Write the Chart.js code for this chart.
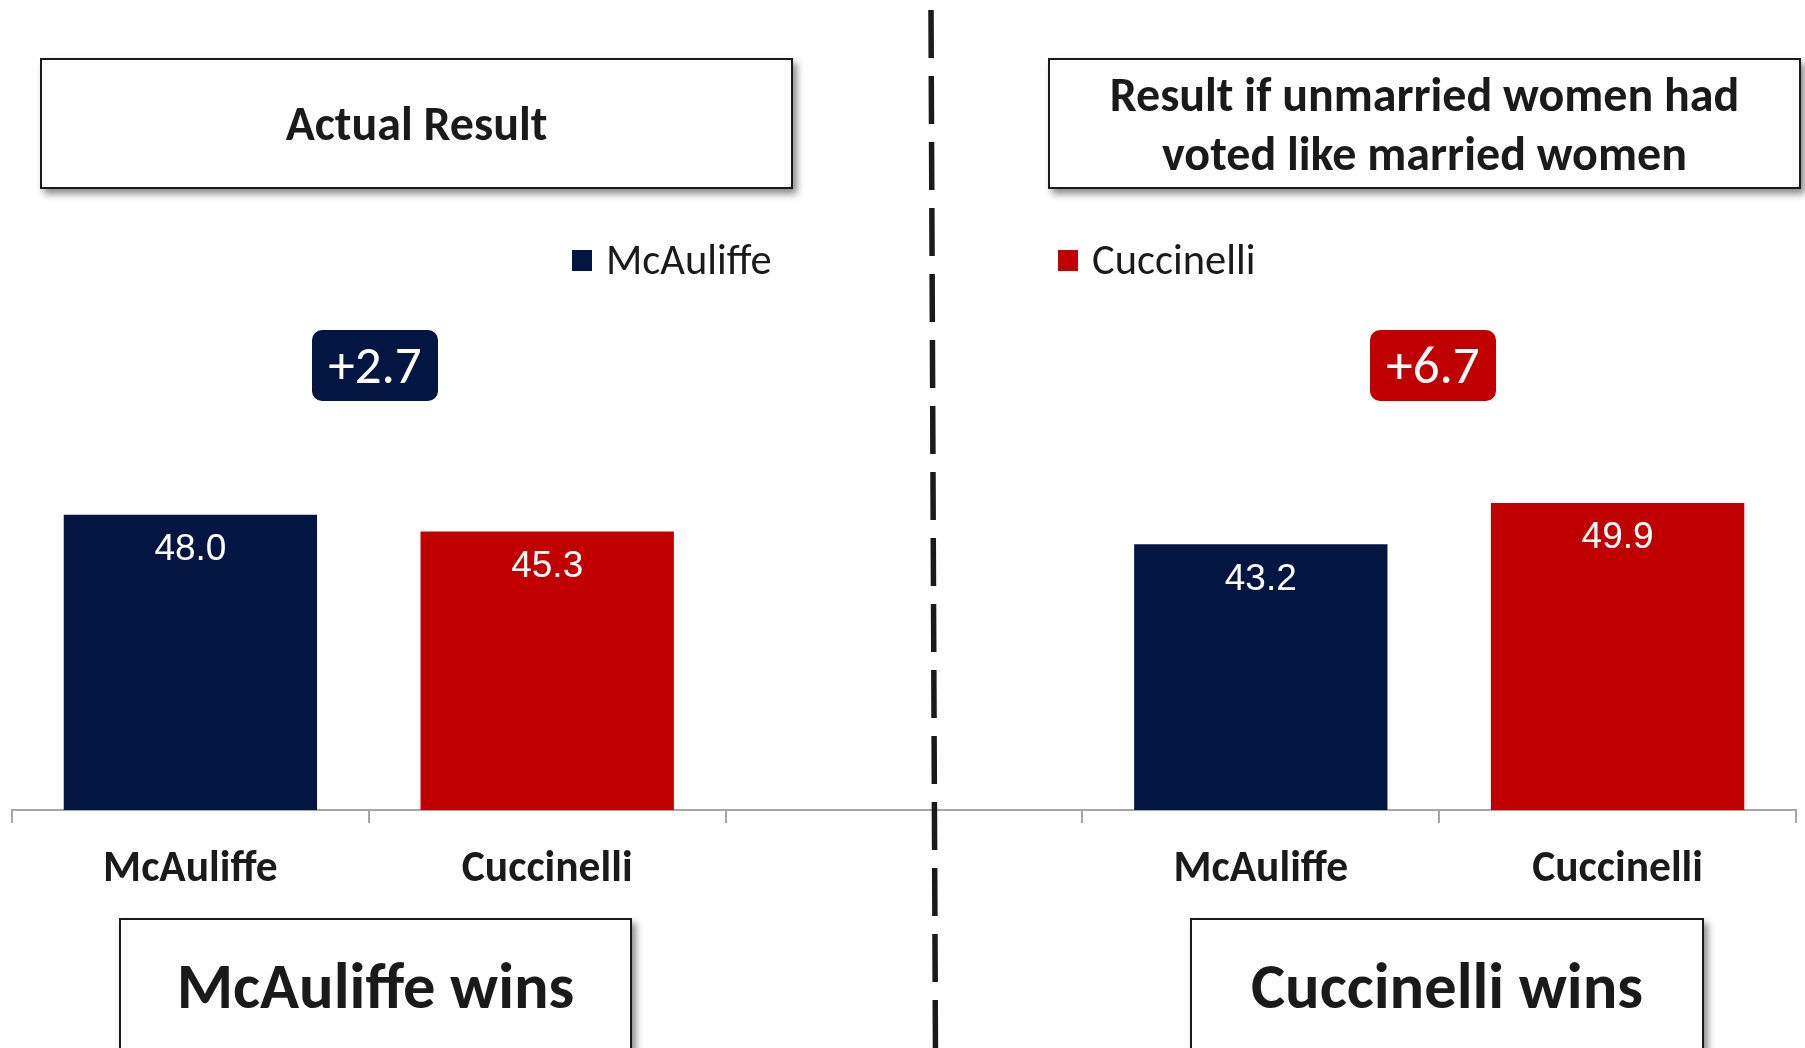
<!DOCTYPE html>
<html>
<head>
<meta charset="utf-8">
<title>Actual result vs. unmarried women voting like married women</title>
<script src="https://cdn.jsdelivr.net/npm/chart.js@4.4.1/dist/chart.umd.min.js"></script>
<style>
  html, body { margin: 0; padding: 0; background: #fff; }
  #stage { position: relative; width: 1805px; height: 1048px; overflow: hidden; font-family: Carlito, Calibri, Lato, sans-serif; color: #1a1a1a; }
  #chart { position: absolute; left: 0; top: 0; }
  .box { position: absolute; box-sizing: border-box; background: #fff; border: 2px solid #1a1a1a;
         box-shadow: 4px 5px 7px rgba(0,0,0,0.45); text-align: center; font-weight: 700; }
  .title { top: 58px; width: 753px; height: 131px; font-size: 48px; display: flex; align-items: center; justify-content: center; line-height: 59px; }
  .verdict { top: 918px; height: 200px; font-size: 64.5px; line-height: 133px; }
  .legend { position: absolute; top: 240px; display: flex; align-items: center; font-size: 42.5px; line-height: 40px; }
  .legend span.sw { display: inline-block; width: 20px; height: 21px; margin-right: 14px; }
  .badge { position: absolute; top: 330px; width: 126px; height: 71px; border-radius: 10px; color: #fff;
           font-size: 53px; line-height: 71px; text-align: center; }
</style>
</head>
<body>
<div id="stage">
  <canvas id="chart" width="1805" height="1048"></canvas>
  <div class="box title" style="left:40px;">Actual Result</div>
  <div class="box title" style="left:1048px;">Result if unmarried women had<br>voted like married women</div>
  <div class="legend" id="legend-left" style="left:572px;"></div>
  <div class="legend" id="legend-right" style="left:1058px;"></div>
  <div class="badge" id="badge-left" style="left:312px;"></div>
  <div class="badge" id="badge-right" style="left:1370px;"></div>
  <div class="box verdict" style="left:119px; width:513px;">McAuliffe wins</div>
  <div class="box verdict" style="left:1190px; width:514px;">Cuccinelli wins</div>
</div>
<script>
// data
const candidates = ["McAuliffe", "Cuccinelli"];
const actualResult = [48.0, 45.3];
const marriedLikeResult = [43.2, 49.9];
const margins = ["+2.7", "+6.7"];
const candColors = ["#031642", "#c00000"];

// x axis: left group, empty spacer, right group
const xLabels = [...candidates, "", ...candidates];

const seriesFor = function (idx) {
  const arr = [null, null, null, null, null];
  arr[idx] = actualResult[idx];
  arr[idx + 3] = marriedLikeResult[idx];
  return arr;
};

const valueLabels = {
  id: "valueLabels",
  afterDatasetsDraw(chart) {
    const ctx = chart.ctx;
    ctx.save();
    ctx.fillStyle = "#fff";
    ctx.font = "37px 'Liberation Sans', Arial, sans-serif";
    ctx.textAlign = "center";
    ctx.textBaseline = "middle";
    chart.data.datasets.forEach((ds, i) => {
      chart.getDatasetMeta(i).data.forEach((bar, j) => {
        if (ds.data[j] == null) return;
        ctx.fillText(ds.data[j].toFixed(1), bar.x, bar.y + 35);
      });
    });
    ctx.restore();
  },
};

const divider = {
  id: "divider",
  afterDraw(chart) {
    const ctx = chart.ctx;
    ctx.save();
    ctx.strokeStyle = "#1a1a1a";
    ctx.lineWidth = 5.5;
    ctx.setLineDash([48, 18]);
    ctx.beginPath();
    ctx.moveTo(931, 10);
    ctx.lineTo(935.5, 1060);
    ctx.stroke();
    ctx.restore();
  },
};

let myChart = new Chart(document.getElementById("chart"), {
  type: "bar",
  plugins: [valueLabels, divider],
  data: {
    labels: xLabels,
    datasets: [
      {
        label: candidates[0],
        data: seriesFor(0),
        backgroundColor: candColors[0],
      },
      {
        label: candidates[1],
        data: seriesFor(1),
        backgroundColor: candColors[1],
      },
    ],
  },
  options: {
    responsive: false,
    animation: false,
    grouped: false,
    barPercentage: 0.71,
    categoryPercentage: 1,
    layout: { padding: { left: 12, right: 9, top: 441, bottom: 0 } },
    plugins: {
      legend: { display: false },
      tooltip: { enabled: false },
    },
    scales: {
      y: { display: false, min: 0, max: 60 },
      x: {
        afterFit: (scale) => { scale.height = 238; },
        grid: { display: true, drawOnChartArea: false, drawTicks: true, tickLength: 13, color: "#a6a6a6", lineWidth: 2, offset: true },
        border: { display: true, color: "#a6a6a6", width: 2 },
        ticks: {
          color: "#1a1a1a",
          padding: 21,
          font: { family: "Carlito, Calibri, Lato, sans-serif", size: 43.5, weight: "bold" },
        },
      },
    },
  },
});

// legend split across the two panels
const fillLegend = function (el, i) {
  el.innerHTML = `<span class="sw" style="background:${candColors[i]}"></span>${candidates[i]}`;
};
fillLegend(document.getElementById("legend-left"), 0);
fillLegend(document.getElementById("legend-right"), 1);

const badgeLeft = document.getElementById("badge-left");
const badgeRight = document.getElementById("badge-right");
badgeLeft.textContent = margins[0];
badgeLeft.style.background = candColors[0];
badgeRight.textContent = margins[1];
badgeRight.style.background = candColors[1];
</script>
</body>
</html>
